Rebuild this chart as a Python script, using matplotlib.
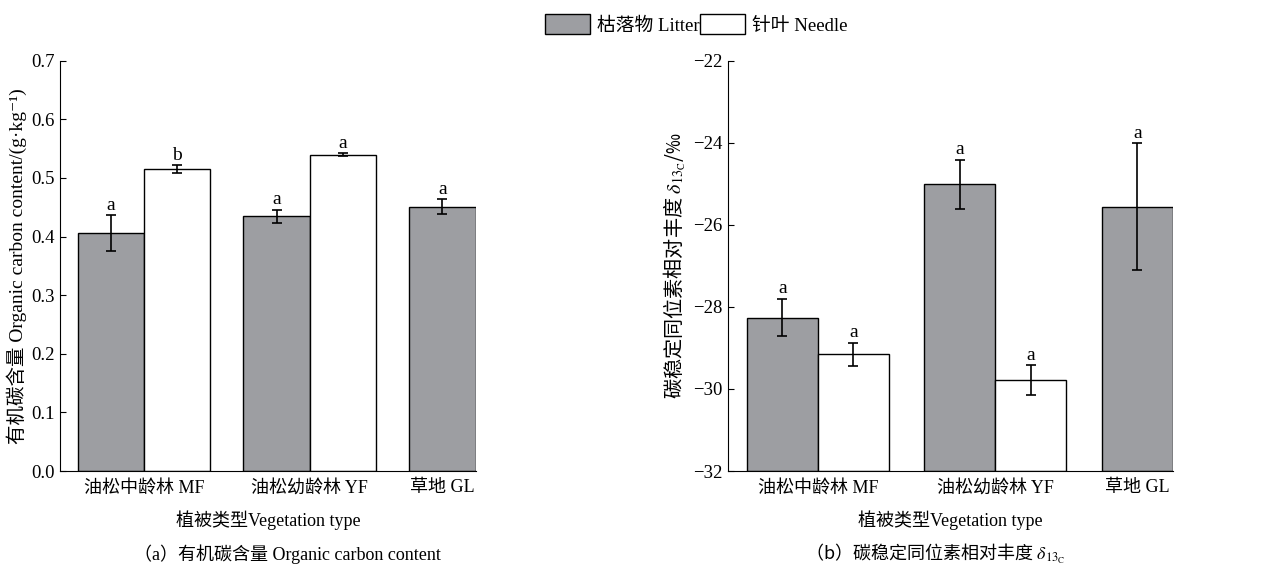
import numpy as np
import matplotlib
matplotlib.use('Agg')
import matplotlib.pyplot as plt
from matplotlib.patches import Patch

plt.rcParams['font.family'] = ['Liberation Serif', 'Noto Sans CJK SC', 'DejaVu Sans']
plt.rcParams['mathtext.fontset'] = 'stix'
plt.rcParams['axes.unicode_minus'] = True

# 数据
categories = ['油松中龄林 MF', '油松幼龄林 YF', '草地 GL']
series_names = ['枯落物 Litter', '针叶 Needle']

oc_litter = [0.406, 0.435, 0.451]
oc_litter_err = [0.030, 0.011, 0.013]
oc_litter_sig = ['a', 'a', 'a']
oc_needle = [0.515, 0.540]
oc_needle_err = [0.007, 0.003]
oc_needle_sig = ['b', 'a']

d13_litter = [-28.26, -25.01, -25.56]
d13_litter_err = [0.46, 0.60, 1.55]
d13_litter_sig = ['a', 'a', 'a']
d13_needle = [-29.15, -29.78]
d13_needle_err = [0.28, 0.37]
d13_needle_sig = ['a', 'a']

gray = '#9d9ea2'
w = 1.0
step = 2.5
cjk = 'Noto Sans CJK SC'


def draw(ax, litter, litter_err, lsig, needle, needle_err, nsig, ylim, yticks, bottom, off):
    xl = np.arange(len(litter)) * step
    xn = np.arange(len(needle)) * step + w
    ax.bar(xl, np.array(litter) - bottom, bottom=bottom, width=w, color=gray,
           edgecolor='black', linewidth=1.0, zorder=2)
    ax.bar(xn, np.array(needle) - bottom, bottom=bottom, width=w, color='white',
           edgecolor='black', linewidth=1.0, zorder=2)
    ax.errorbar(xl, litter, yerr=litter_err, fmt='none', ecolor='black',
                elinewidth=1.2, capsize=3.5, capthick=1.2, zorder=3)
    ax.errorbar(xn, needle, yerr=needle_err, fmt='none', ecolor='black',
                elinewidth=1.2, capsize=3.5, capthick=1.2, zorder=3)
    for x, v, e, s in zip(xl, litter, litter_err, lsig):
        ax.text(x, v + e + off, s, ha='center', va='bottom', fontsize=14)
    for x, v, e, s in zip(xn, needle, needle_err, nsig):
        ax.text(x, v + e + off, s, ha='center', va='bottom', fontsize=14)
    ticks = [x + w / 2 if i < len(needle) else x for i, x in enumerate(xl)]
    ax.set_xticks(ticks)
    ax.set_xticklabels(categories, fontsize=13)
    ax.set_xlim(-0.76, xl[-1] + w / 2)
    ax.set_ylim(*ylim)
    ax.set_yticks(yticks)
    ax.tick_params(axis='y', direction='in', length=4, labelsize=13.5, pad=4)
    ax.tick_params(axis='x', length=0, pad=6)
    for sp in ['top', 'right']:
        ax.spines[sp].set_visible(False)
    ax.set_xlabel('植被类型Vegetation type', fontsize=13, labelpad=10)


fig = plt.figure(figsize=(12.66, 5.74), dpi=100)
ax1 = fig.add_axes([0.0476, 0.1794, 0.3281, 0.7148])
ax2 = fig.add_axes([0.5753, 0.1794, 0.3510, 0.7148])

draw(ax1, oc_litter, oc_litter_err, oc_litter_sig, oc_needle, oc_needle_err, oc_needle_sig,
     (0, 0.7), np.arange(0, 0.71, 0.1), 0, 0.002)
ax1.set_yticklabels(['%.1f' % t for t in np.arange(0, 0.71, 0.1)])
ax1.set_ylabel('有机碳含量 Organic carbon content/(g·kg⁻¹)', fontsize=14, labelpad=3)

draw(ax2, d13_litter, d13_litter_err, d13_litter_sig, d13_needle, d13_needle_err, d13_needle_sig,
     (-32, -22), np.arange(-32, -21, 2), -32, 0.03)
ax2.set_ylabel('碳稳定同位素相对丰度 $\\delta_{13_{\\mathrm{C}}}$/‰', fontsize=14.5, labelpad=4,
               family=cjk)

fig.text(0.227, 1 - 554 / 574, '（a）有机碳含量 Organic carbon content', ha='center', va='center', fontsize=13)
fig.text(0.739, 1 - 554 / 574, '（b）碳稳定同位素相对丰度 $\\delta_{13_{\\mathrm{C}}}$', ha='center', va='center',
         fontsize=13, family=cjk)

handles = [Patch(facecolor=gray, edgecolor='black', linewidth=1.0),
           Patch(facecolor='white', edgecolor='black', linewidth=1.0)]
fig.legend(handles, series_names, loc='upper center', bbox_to_anchor=(0.55, 1.005), ncol=2,
           frameon=False, fontsize=13.5, handlelength=2.4, handleheight=1.3,
           columnspacing=0.0, handletextpad=0.4)

fig.savefig('out.png', dpi=100)
